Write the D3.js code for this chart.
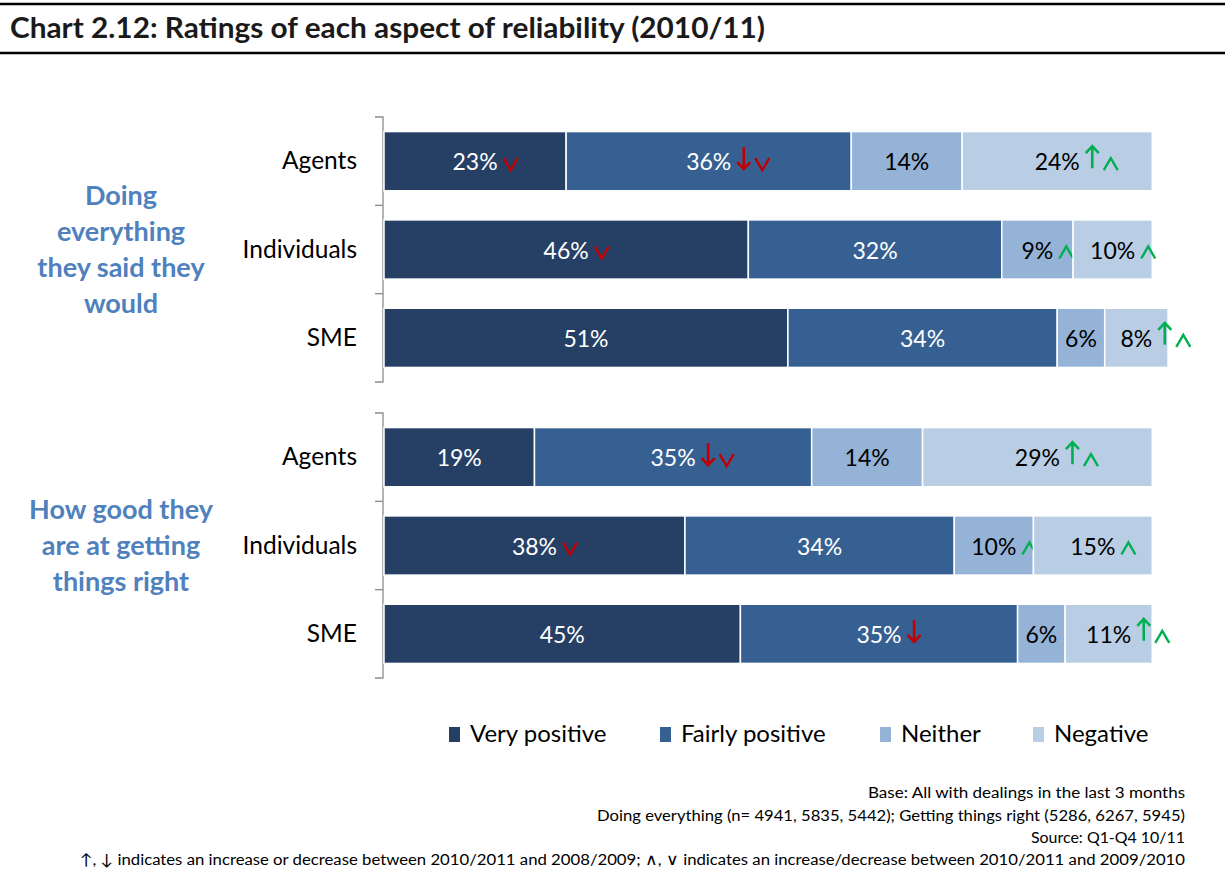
<!DOCTYPE html>
<html>
<head>
<meta charset="utf-8">
<script src="https://cdn.jsdelivr.net/npm/d3@7"></script>
<style>
  html, body { margin: 0; padding: 0; background: #fff; }
  svg { display: block; font-family: Lato, "Open Sans", sans-serif; }
</style>
</head>
<body>
<svg id="chart" width="1225" height="879"></svg>
<script>
// ---- data -------------------------------------------------------------
const titleText = "Chart 2.12: Ratings of each aspect of reliability (2010/11)";
const categories = ["Agents", "Individuals", "SME"];
const seriesNames = ["Very positive", "Fairly positive", "Neither", "Negative"];
const groupLabels = [
  ["Doing", "everything", "they said they", "would"],
  ["How good they", "are at getting", "things right"]
];
// percentages per category, in series order
const doingValues = [
  [23, 36, 14, 24],
  [46, 32, 9, 10],
  [51, 34, 6, 8]
];
const rightValues = [
  [19, 35, 14, 29],
  [38, 34, 10, 15],
  [45, 35, 6, 11]
];
// change markers: "D" / "U" = long arrow (vs 2008/09), "v" / "^" = chevron (vs 2009/10)
const doingMarks = [
  ["v", "Dv", "", "U^"],
  ["v", "", "^", "^"],
  ["", "", "", "U^"]
];
const rightMarks = [
  ["", "Dv", "", "U^"],
  ["v", "", "^", "^"],
  ["", "D", "", "U^"]
];
const footnotes = [
  "Base: All with dealings in the last 3 months",
  "Doing everything (n= 4941, 5835,  5442);  Getting things right (5286,  6267,  5945)",
  "Source: Q1-Q4 10/11",
  "\u2191, \u2193 indicates an increase or decrease between 2010/2011 and 2008/2009;  \u2227, \u2228 indicates an increase/decrease between 2010/2011 and 2009/2010"
];
const footnoteWidths = [317, 588, 154, 1105];

// ---- setup ------------------------------------------------------------
const svg = d3.select("#chart");
const colors = d3.scaleOrdinal().domain(seriesNames)
  .range(["#264065", "#376092", "#95B3D7", "#B9CDE5"]);
const labelColors = d3.scaleOrdinal().domain(seriesNames)
  .range(["#ffffff", "#ffffff", "#000000", "#000000"]);
const UP = "#00B050", DOWN = "#C00000";

const x = d3.scaleLinear().domain([0, 100]).range([384, 1176]);

const groups = [
  { labels: groupLabels[0], values: doingValues, marks: doingMarks, range: [117, 382] },
  { labels: groupLabels[1], values: rightValues, marks: rightMarks, range: [413, 678] }
];

// ---- title band -------------------------------------------------------
svg.append("line").attr("x1", 0).attr("x2", 1225).attr("y1", 4).attr("y2", 4)
  .attr("stroke", "#000").attr("stroke-width", 2.5);
svg.append("line").attr("x1", 0).attr("x2", 1225).attr("y1", 53).attr("y2", 53)
  .attr("stroke", "#000").attr("stroke-width", 2.5);
svg.append("text").attr("x", 10).attr("y", 38)
  .attr("font-size", 28).attr("font-weight", 700).attr("fill", "#1a1a1a")
  .attr("textLength", 755).attr("lengthAdjust", "spacingAndGlyphs")
  .text(titleText);

// ---- marker glyphs ----------------------------------------------------
function drawMarker(g, kind, x0, base) {
  if (kind === "D") {
    g.append("path").attr("d", `M${x0 + 6.5},${base - 23}V${base - 1}M${x0},${base - 8}L${x0 + 6.5},${base - 1}L${x0 + 13},${base - 8}`)
      .attr("fill", "none").attr("stroke", DOWN).attr("stroke-width", 2.6);
    return 13;
  }
  if (kind === "U") {
    g.append("path").attr("d", `M${x0 + 6.5},${base - 2}V${base - 24}M${x0},${base - 17}L${x0 + 6.5},${base - 24}L${x0 + 13},${base - 17}`)
      .attr("fill", "none").attr("stroke", UP).attr("stroke-width", 2.6);
    return 13;
  }
  if (kind === "v") {
    g.append("path").attr("d", `M${x0},${base - 12}L${x0 + 7},${base}L${x0 + 14},${base - 12}`)
      .attr("fill", "none").attr("stroke", DOWN).attr("stroke-width", 2.4);
    return 14;
  }
  if (kind === "^") {
    g.append("path").attr("d", `M${x0},${base}L${x0 + 7},${base - 12}L${x0 + 14},${base}`)
      .attr("fill", "none").attr("stroke", UP).attr("stroke-width", 2.4);
    return 14;
  }
  return 0;
}

// ---- bar groups -------------------------------------------------------
const stack = d3.stack().keys(d3.range(seriesNames.length));

groups.forEach(grp => {
  const y = d3.scaleBand().domain(categories).range(grp.range)
    .paddingInner(0.33).paddingOuter(0.165);
  const g = svg.append("g");

  // bracket axis with ticks between categories
  const axis = d3.axisLeft(y).tickSize(0).tickFormat("");
  const axisG = g.append("g").attr("transform", `translate(383,0)`).call(axis);
  axisG.select(".domain").attr("stroke", "#8c8c8c").attr("stroke-width", 1.3)
    .attr("d", `M-8,${grp.range[0]}H0V${grp.range[1]}H-8`);
  const step = y.step();
  d3.range(1, categories.length).forEach(i => {
    const yy = grp.range[0] + i * step;
    g.append("line").attr("x1", 375).attr("x2", 383).attr("y1", yy).attr("y2", yy)
      .attr("stroke", "#8c8c8c").attr("stroke-width", 1.3);
  });

  // category labels
  g.selectAll(".cat").data(categories).join("text")
    .attr("x", 357).attr("y", d => y(d) + y.bandwidth() / 2 + 8)
    .attr("text-anchor", "end").attr("font-size", 24.5).attr("fill", "#000")
    .text(d => d);

  // stacked segments
  const stacked = stack(grp.values);
  stacked.forEach((layer, si) => {
    layer.forEach((seg, ci) => {
      const cat = categories[ci];
      const x0 = x(seg[0]), x1 = x(seg[1]);
      g.append("rect")
        .attr("x", x0).attr("y", y(cat))
        .attr("width", x1 - x0).attr("height", y.bandwidth())
        .attr("fill", colors(seriesNames[si]))
        .attr("stroke", "#fff").attr("stroke-width", 1.5);

      const cx = (x0 + x1) / 2;
      const base = y(cat) + y.bandwidth() / 2 + 9;
      const t = g.append("text").attr("x", cx).attr("y", base)
        .attr("text-anchor", "middle").attr("font-size", 23)
        .attr("fill", labelColors(seriesNames[si]))
        .text(grp.values[ci][si] + "%");
      const w = t.node().getComputedTextLength();
      let mx = cx + w / 2 + 6;
      for (const k of grp.marks[ci][si]) {
        mx += drawMarker(g, k, mx, base) + 5;
      }
    });
  });

  // group caption on the left
  const mid = (grp.range[0] + grp.range[1]) / 2;
  const lh = 36;
  const first = mid - (grp.labels.length - 1) * lh / 2;
  g.selectAll(".cap").data(grp.labels).join("text")
    .attr("x", 121).attr("y", (d, i) => first + i * lh + 9)
    .attr("text-anchor", "middle").attr("font-size", 27).attr("font-weight", 700)
    .attr("fill", "#4F81BD")
    .text(d => d);
});

// ---- legend -----------------------------------------------------------
const legendX = [449, 660, 880, 1033];
const legend = svg.append("g");
seriesNames.forEach((name, i) => {
  legend.append("rect").attr("x", legendX[i]).attr("y", 727)
    .attr("width", 11).attr("height", 15).attr("fill", colors(name));
  legend.append("text").attr("x", legendX[i] + 21).attr("y", 742)
    .attr("font-size", 24).attr("fill", "#000").text(name);
});

// ---- footnotes --------------------------------------------------------
const footY = [798, 821, 843, 865];
footnotes.forEach((txt, i) => {
  svg.append("text").attr("x", 1185).attr("y", footY[i])
    .attr("text-anchor", "end").attr("font-size", 15.5).attr("fill", "#000")
    .attr("textLength", footnoteWidths[i]).attr("lengthAdjust", "spacingAndGlyphs")
    .text(txt);
});
</script>
</body>
</html>
